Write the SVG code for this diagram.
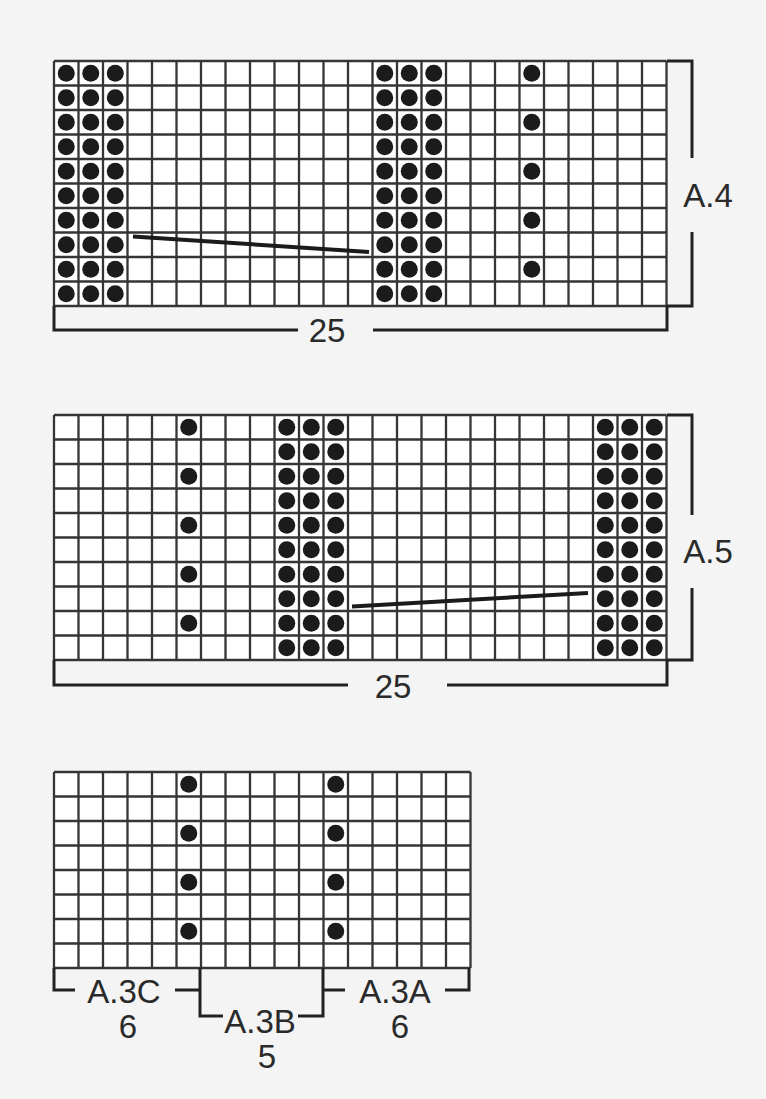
<svg xmlns="http://www.w3.org/2000/svg" width="766" height="1099" viewBox="0 0 766 1099">
<style>
.bg{fill:#f4f4f4}
.cells{fill:#ffffff}
.grid{fill:none;stroke:#353535;stroke-width:2.3}
.dot{fill:#1b1b1b}
.cable{stroke:#1b1b1b;stroke-width:4;stroke-linecap:butt}
.br{fill:none;stroke:#222;stroke-width:3;stroke-linejoin:miter;stroke-linecap:butt}
.lbl{font-family:"Liberation Sans",Arial,sans-serif;font-size:33px;fill:#2a2a2a;text-anchor:middle}
</style>
<defs>
<circle id="d" class="dot" r="8.5"/>
<g id="col10">
<use href="#d" y="0"/><use href="#d" y="24.5"/><use href="#d" y="49"/><use href="#d" y="73.5"/><use href="#d" y="98"/>
<use href="#d" y="122.5"/><use href="#d" y="147"/><use href="#d" y="171.5"/><use href="#d" y="196"/><use href="#d" y="220.5"/>
</g>
<g id="alt5">
<use href="#d" y="0"/><use href="#d" y="49"/><use href="#d" y="98"/><use href="#d" y="147"/><use href="#d" y="196"/>
</g>
<g id="alt4">
<use href="#d" y="0"/><use href="#d" y="49"/><use href="#d" y="98"/><use href="#d" y="147"/>
</g>
</defs>
<rect class="bg" x="0" y="0" width="766" height="1099"/>

<g id="chart-A4">
<rect class="cells" x="54" y="61" width="612.5" height="245"/>
<path class="grid" d="M54 61H666.5M54 85.5H666.5M54 110H666.5M54 134.5H666.5M54 159H666.5M54 183.5H666.5M54 208H666.5M54 232.5H666.5M54 257H666.5M54 281.5H666.5M54 306H666.5
M54 61V306M78.5 61V306M103 61V306M127.5 61V306M152 61V306M176.5 61V306M201 61V306M225.5 61V306M250 61V306M274.5 61V306M299 61V306M323.5 61V306M348 61V306M372.5 61V306M397 61V306M421.5 61V306M446 61V306M470.5 61V306M495 61V306M519.5 61V306M544 61V306M568.5 61V306M593 61V306M617.5 61V306M642 61V306M666.5 61V306"/>
<use href="#col10" x="66.25" y="73.25"/>
<use href="#col10" x="90.75" y="73.25"/>
<use href="#col10" x="115.25" y="73.25"/>
<use href="#col10" x="384.75" y="73.25"/>
<use href="#col10" x="409.25" y="73.25"/>
<use href="#col10" x="433.75" y="73.25"/>
<use href="#alt5" x="531.75" y="73.25"/>
<line class="cable" x1="133" y1="236.5" x2="369" y2="252"/>
</g>

<g id="chart-A5">
<rect class="cells" x="54" y="415" width="612.5" height="245"/>
<path class="grid" d="M54 415H666.5M54 439.5H666.5M54 464H666.5M54 488.5H666.5M54 513H666.5M54 537.5H666.5M54 562H666.5M54 586.5H666.5M54 611H666.5M54 635.5H666.5M54 660H666.5
M54 415V660M78.5 415V660M103 415V660M127.5 415V660M152 415V660M176.5 415V660M201 415V660M225.5 415V660M250 415V660M274.5 415V660M299 415V660M323.5 415V660M348 415V660M372.5 415V660M397 415V660M421.5 415V660M446 415V660M470.5 415V660M495 415V660M519.5 415V660M544 415V660M568.5 415V660M593 415V660M617.5 415V660M642 415V660M666.5 415V660"/>
<use href="#alt5" x="188.75" y="427.25"/>
<use href="#col10" x="286.75" y="427.25"/>
<use href="#col10" x="311.25" y="427.25"/>
<use href="#col10" x="335.75" y="427.25"/>
<use href="#col10" x="605.25" y="427.25"/>
<use href="#col10" x="629.75" y="427.25"/>
<use href="#col10" x="654.25" y="427.25"/>
<line class="cable" x1="352" y1="606.5" x2="588" y2="593"/>
</g>

<g id="chart-A3">
<rect class="cells" x="54" y="772" width="416.5" height="196"/>
<path class="grid" d="M54 772H470.5M54 796.5H470.5M54 821H470.5M54 845.5H470.5M54 870H470.5M54 894.5H470.5M54 919H470.5M54 943.5H470.5M54 968H470.5
M54 772V968M78.5 772V968M103 772V968M127.5 772V968M152 772V968M176.5 772V968M201 772V968M225.5 772V968M250 772V968M274.5 772V968M299 772V968M323.5 772V968M348 772V968M372.5 772V968M397 772V968M421.5 772V968M446 772V968M470.5 772V968"/>
<use href="#alt4" x="188.75" y="784.25"/>
<use href="#alt4" x="335.75" y="784.25"/>
</g>

<g id="connectors">
<path class="br" d="M667 61H692V158M692 232V306H667"/>
<path class="br" d="M54 306V330H298M373 330H667V306"/>
<path class="br" d="M667 415H692V515M692 588V660H667"/>
<path class="br" d="M54 660V685H348M447 685H667V660"/>
<path class="br" d="M54 968V990H75M175 990H200V968M200 990V1016H223M298 1016H323V968M323 990H345M445 990H469V968"/>
</g>

<g id="label-A4"><text class="lbl" x="708" y="207">A.4</text></g>
<g id="label-25a"><text class="lbl" x="327" y="342">25</text></g>
<g id="label-A5"><text class="lbl" x="708" y="563">A.5</text></g>
<g id="label-25b"><text class="lbl" x="393" y="698">25</text></g>
<g id="label-A3C"><text class="lbl" x="124" y="1003">A.3C</text><text class="lbl" x="128" y="1038">6</text></g>
<g id="label-A3B"><text class="lbl" x="260" y="1033">A.3B</text><text class="lbl" x="267" y="1068">5</text></g>
<g id="label-A3A"><text class="lbl" x="395" y="1003">A.3A</text><text class="lbl" x="400" y="1038">6</text></g>
</svg>
